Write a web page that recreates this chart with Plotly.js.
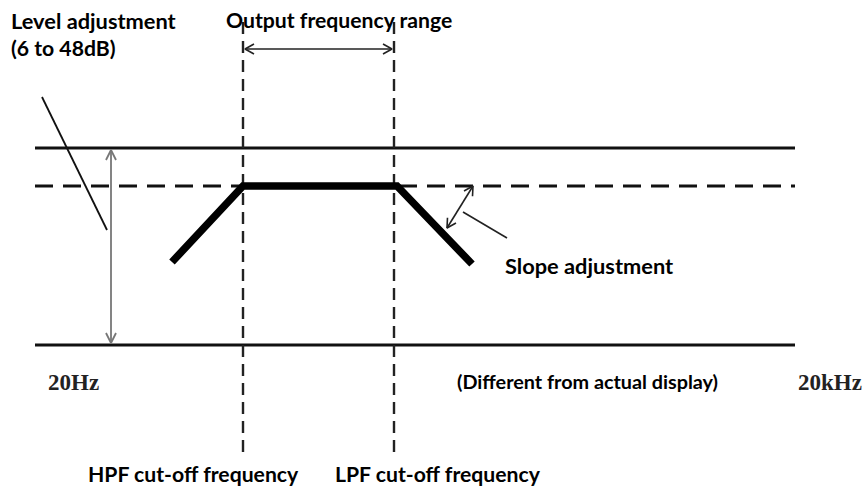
<!DOCTYPE html>
<html>
<head>
<meta charset="utf-8">
<script src="https://cdn.plot.ly/plotly-3.0.1.min.js"></script>
<style>
html,body{margin:0;padding:0;background:#fff;}
#chart{width:867px;height:487px;}
</style>
</head>
<body>
<div id="chart"></div>
<script>
// ---- Diagram data (drawing units on a 867 x 487 canvas) ----
var bandStart = 35, bandEnd = 795;          // span of the level lines (20Hz .. 20kHz)
var levelTopY = 148;                          // max level line
var levelRefY = 186;                          // pass-band level (dashed)
var levelBottomY = 345;                       // bottom line
var cutoffX = [243, 394];                     // HPF, LPF cut-off positions
var cutoffY = [22, 453];                      // vertical extent of cut-off markers
var responseX = [172, 243, 397, 472];         // filter response shape
var responseY = [262, 186, 186, 264];
var levelSlashX = [42, 107];                  // level adjustment indicator
var levelSlashY = [97, 230];
var rangeArrowX = [245, 392], rangeArrowY = [49, 49];
var levelArrowX = [111, 111], levelArrowY = [150, 343];
var slopeArrowX = [447, 473], slopeArrowY = [228, 186];
var slopePointerX = [463, 507], slopePointerY = [212, 238];

var labelText = ["Level adjustment", "(6 to 48dB)", "Output frequency range", "Slope adjustment",
                 "(Different from actual display)", "HPF cut-off frequency", "LPF cut-off frequency"];
var labelX = [9, 9, 224, 503, 455, 86, 333];
var labelY = [20, 48, 20, 265, 381, 474, 474];
var freqLabels = ["20Hz", "20kHz"];
var freqLabelX = [46, 796];
var freqLabelY = [382, 382];

// ---- helpers ----
function line(xs, ys, color, width, dash) {
  return {type:'scatter', mode:'lines', x:xs, y:ys, hoverinfo:'skip', showlegend:false,
          line:{color:color, width:width, dash:dash||'solid'}};
}
function chevron(tx, ty, fx, fy, len, half) {
  var dx = tx - fx, dy = ty - fy, d = Math.sqrt(dx*dx + dy*dy);
  var ux = dx/d, uy = dy/d, px = -uy, py = ux;
  var bx = tx - ux*len, by = ty - uy*len;
  return {x:[bx + px*half, tx, bx - px*half], y:[by + py*half, ty, by - py*half]};
}
function doubleArrow(xs, ys, color, width, len, half) {
  var out = [line(xs, ys, color, width)];
  var a = chevron(xs[1], ys[1], xs[0], ys[0], len, half);
  var b = chevron(xs[0], ys[0], xs[1], ys[1], len, half);
  out.push(line(a.x, a.y, color, width));
  out.push(line(b.x, b.y, color, width));
  return out;
}

var traces = [];
traces.push(line([bandStart, bandEnd], [levelTopY, levelTopY], '#111', 2.8));
traces.push(line([bandStart, bandEnd], [levelRefY, levelRefY], '#111', 2.8, '18px,10px'));
traces.push(line([bandStart, bandEnd], [levelBottomY, levelBottomY], '#111', 2.8));
traces.push(line([cutoffX[0], cutoffX[0]], cutoffY, '#222', 2.4, '12px,7px'));
traces.push(line([cutoffX[1], cutoffX[1]], cutoffY, '#222', 2.4, '12px,7px'));
traces.push(line(responseX, responseY, '#000', 7.5));
traces.push(line(levelSlashX, levelSlashY, '#111', 1.8));
traces = traces.concat(doubleArrow(rangeArrowX, rangeArrowY, '#222', 1.6, 9, 5));
traces = traces.concat(doubleArrow(levelArrowX, levelArrowY, '#777', 1.8, 10, 5));
traces = traces.concat(doubleArrow(slopeArrowX, slopeArrowY, '#222', 1.6, 9, 5));
traces.push(line(slopePointerX, slopePointerY, '#222', 1.6));

var annotations = [];
for (var i = 0; i < labelText.length; i++) {
  var fs = (i === 4) ? 19.8 : (i === 0 || i === 3 ? 21.8 : 21.2);
  annotations.push({x:labelX[i], y:labelY[i], xref:'x', yref:'y', text:labelText[i], showarrow:false,
    xanchor:'left', yanchor:'middle',
    font:{family:'Lato, "Open Sans", sans-serif', size:fs, color:'#000', weight:'bold'}});
}
for (var j = 0; j < freqLabels.length; j++) {
  annotations.push({x:freqLabelX[j], y:freqLabelY[j], xref:'x', yref:'y', text:freqLabels[j], showarrow:false,
    xanchor:'left', yanchor:'middle',
    font:{family:'"Liberation Serif", "DejaVu Serif", serif', size:23, color:'#222', weight:'bold'}});
}

var layout = {
  width:867, height:487,
  margin:{l:0, r:0, t:0, b:0},
  paper_bgcolor:'#fff', plot_bgcolor:'#fff',
  xaxis:{range:[0, 867], visible:false, fixedrange:true},
  yaxis:{range:[487, 0], visible:false, fixedrange:true},
  showlegend:false,
  annotations:annotations
};
Plotly.newPlot('chart', traces, layout, {displayModeBar:false, staticPlot:true});
</script>
</body>
</html>
